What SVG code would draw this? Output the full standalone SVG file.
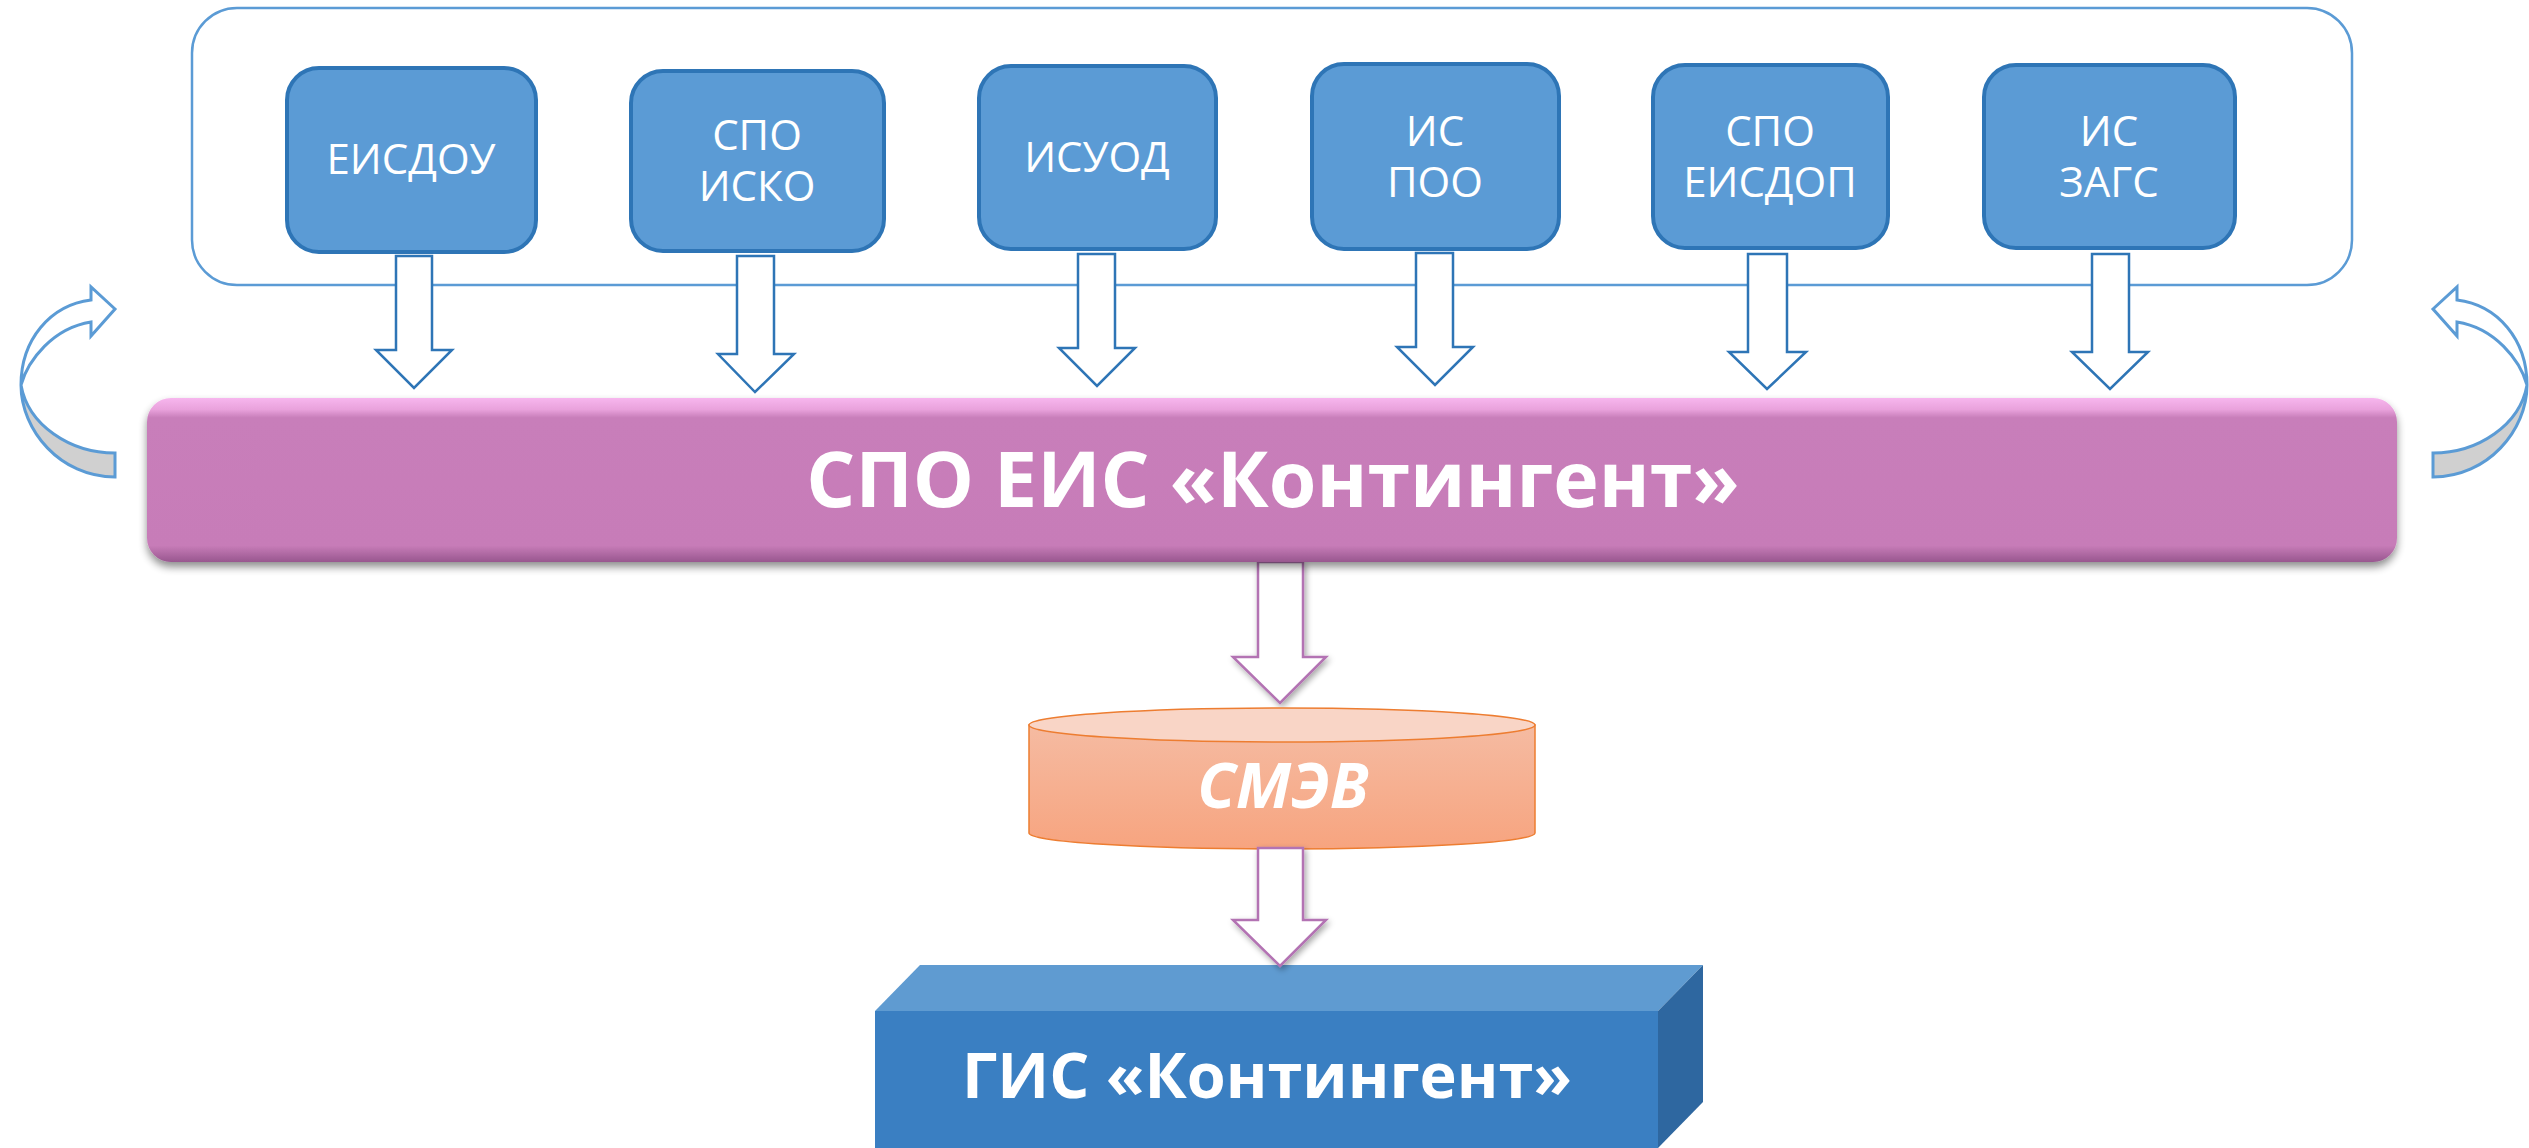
<svg xmlns="http://www.w3.org/2000/svg" width="2529" height="1148" viewBox="0 0 2529 1148">
<style>
.box{fill:#5B9BD5;stroke:#2E75B6;stroke-width:4}
.btxt{font-family:"Open Sans","DejaVu Sans",sans-serif;font-size:42px;fill:#FFFFFF;text-anchor:middle}
.barr{fill:#FFFFFF;stroke:#2E75B6;stroke-width:2.5}
.parr{fill:#FFFFFF;stroke:#B373B3;stroke-width:2.5}
.carr{stroke:#5B9BD5;stroke-width:3;stroke-linejoin:miter}
.big{font-family:"Open Sans","DejaVu Sans",sans-serif;font-weight:bold;fill:#FFFFFF;text-anchor:middle}
</style>
<defs>
<linearGradient id="barg" x1="0" y1="0" x2="0" y2="1">
<stop offset="0" stop-color="#F7B6EE"/>
<stop offset="0.07" stop-color="#E9A2DC"/>
<stop offset="0.12" stop-color="#C87EBA"/>
<stop offset="0.9" stop-color="#C77CB8"/>
<stop offset="1" stop-color="#98578F"/>
</linearGradient>
<linearGradient id="cylg" x1="0" y1="0" x2="0" y2="1">
<stop offset="0" stop-color="#F5BBA2"/>
<stop offset="1" stop-color="#F7A47F"/>
</linearGradient>
<filter id="sh" x="-5%" y="-20%" width="110%" height="150%">
<feGaussianBlur in="SourceAlpha" stdDeviation="4"/>
<feOffset dx="0" dy="5" result="b"/>
<feComponentTransfer><feFuncA type="linear" slope="0.45"/></feComponentTransfer>
<feMerge><feMergeNode/><feMergeNode in="SourceGraphic"/></feMerge>
</filter>
<filter id="ash" x="-30%" y="-10%" width="160%" height="130%">
<feGaussianBlur in="SourceAlpha" stdDeviation="3"/>
<feOffset dx="2" dy="3"/>
<feComponentTransfer><feFuncA type="linear" slope="0.35"/></feComponentTransfer>
<feMerge><feMergeNode/><feMergeNode in="SourceGraphic"/></feMerge>
</filter>
<g id="curv">
<path d="M21,385 C21,430 60,477 115,477 V453 C70,453 28,425 21,385 Z" fill="#D0D0D0"/>
<path d="M21,385 C28,360 53,328 91,322 V336 L115,309 L91,287 V300 C50,305 21,340 21,385 Z" fill="#FFFFFF"/>
<path d="M21,385 C21,430 60,477 115,477 V453 C70,453 28,425 21,385 C28,360 53,328 91,322 V336 L115,309 L91,287 V300 C50,305 21,340 21,385" fill="none" class="carr"/>
</g>
</defs>
<rect width="2529" height="1148" fill="#FFFFFF"/>

<g id="container">
<rect x="192" y="8" width="2160" height="277" rx="45" ry="45" fill="#FFFFFF" stroke="#5B9BD5" stroke-width="2.5"/>
</g>

<g id="n-eisdou">
<rect class="box" x="287" y="68" width="249" height="184" rx="32" ry="32"/>
<text class="btxt" x="411" y="174">ЕИСДОУ</text>
</g>
<g id="n-spo-isko">
<rect class="box" x="631" y="71" width="253" height="180" rx="32" ry="32"/>
<text class="btxt" x="757" y="150">СПО</text>
<text class="btxt" x="757" y="201">ИСКО</text>
</g>
<g id="n-isuod">
<rect class="box" x="979" y="66" width="237" height="183" rx="32" ry="32"/>
<text class="btxt" x="1097" y="172">ИСУОД</text>
</g>
<g id="n-is-poo">
<rect class="box" x="1312" y="64" width="247" height="185" rx="32" ry="32"/>
<text class="btxt" x="1435" y="146">ИС</text>
<text class="btxt" x="1435" y="197">ПОО</text>
</g>
<g id="n-spo-eisdop">
<rect class="box" x="1653" y="65" width="235" height="183" rx="32" ry="32"/>
<text class="btxt" x="1770" y="146">СПО</text>
<text class="btxt" x="1770" y="197">ЕИСДОП</text>
</g>
<g id="n-is-zags">
<rect class="box" x="1984" y="65" width="251" height="183" rx="32" ry="32"/>
<text class="btxt" x="2109" y="146">ИС</text>
<text class="btxt" x="2109" y="197">ЗАГС</text>
</g>

<g id="connectors">
<path class="barr" d="M396,256 H432 V350 H452 L414,388 L376,350 H396 Z"/>
<path class="barr" d="M737,256 H774 V354 H794 L755,392 L718,354 H737 Z"/>
<path class="barr" d="M1078,254 H1115 V348 H1135 L1097,386 L1059,348 H1078 Z"/>
<path class="barr" d="M1416,253 H1453 V347 H1473 L1435,385 L1397,347 H1416 Z"/>
<path class="barr" d="M1748,254 H1787 V352 H1806 L1767,389 L1729,352 H1748 Z"/>
<path class="barr" d="M2092,254 H2129 V352 H2148 L2110,389 L2072,352 H2092 Z"/>
<use href="#curv"/>
<use href="#curv" transform="translate(2548,0) scale(-1,1)"/>
<path class="parr" filter="url(#ash)" d="M1258,562 H1303 V657 H1326 L1280,703 L1233,657 H1258 Z"/>
</g>

<g id="n-spo-eis">
<rect x="147" y="398" width="2250" height="164" rx="24" ry="24" fill="url(#barg)" filter="url(#sh)"/>
<text class="big" x="1273" y="507" font-size="77">СПО ЕИС «Контингент»</text>
</g>

<g id="n-smev">
<path d="M1029,725 V833 A253,16 0 0 0 1535,833 V725 Z" fill="url(#cylg)" stroke="#ED7D31" stroke-width="1.5"/>
<ellipse cx="1282" cy="725" rx="253" ry="17" fill="#F9D5C6" stroke="#ED7D31" stroke-width="1.5"/>
<text class="big" x="1283" y="808" font-size="63" font-style="italic">СМЭВ</text>
</g>

<g id="n-gis">
<polygon points="875,1011 920,965 1703,965 1658,1011" fill="#5F9BD1"/>
<polygon points="1658,1011 1703,965 1703,1102 1658,1148" fill="#2E67A0"/>
<rect x="875" y="1011" width="783" height="137" fill="#3A7FC2"/>
<text class="big" x="1267" y="1098" font-size="63">ГИС «Контингент»</text>
</g>

<g id="connectors2">
<path class="parr" filter="url(#ash)" d="M1258,848 H1303 V920 H1326 L1280,966 L1233,920 H1258 Z"/>
</g>
</svg>
